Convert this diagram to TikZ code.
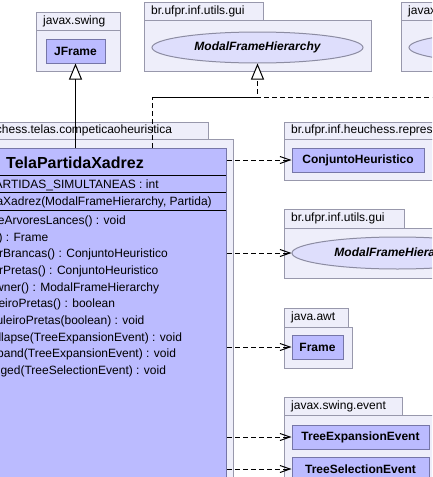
\documentclass[tikz,border=0pt]{standalone}
\usepackage{fontspec}
\setmainfont{Liberation Sans}
\usepackage{tikz}
\usetikzlibrary{arrows.meta,shapes.geometric}
\definecolor{pkgfill}{RGB}{238,238,250}
\definecolor{pkgline}{RGB}{152,152,172}
\definecolor{clsfill}{RGB}{187,187,255}
\definecolor{clsline}{RGB}{118,118,168}
\definecolor{ifacefill}{RGB}{222,222,252}
\definecolor{ifaceline}{RGB}{140,140,162}

\begin{document}
\begin{tikzpicture}[x=1pt,y=-1pt,>=Latex,
  pkg/.style={draw=pkgline,fill=pkgfill,line width=1pt},
  pkglabel/.style={anchor=west,inner sep=0pt,font=\fontsize{12}{14}\selectfont},
  cls/.style={draw=clsline,fill=clsfill,line width=1pt,inner sep=0pt,font=\bfseries\fontsize{12}{14}\selectfont},
  iface/.style={ellipse,draw=ifaceline,fill=ifacefill,line width=1pt,inner sep=0pt,font=\bfseries\itshape\fontsize{12}{14}\selectfont},
  member/.style={anchor=base west,inner sep=0pt,font=\fontsize{12}{14}\selectfont},
  sep/.style={line width=1pt},
  dep/.style={line width=1pt,dash pattern=on 5pt off 3pt,-{Straight Barb[length=10pt,width=7pt]}},
  gen/.style={line width=1pt,-{Triangle[length=16pt,width=13pt,fill=white]}},
  real/.style={line width=1pt,dash pattern=on 5pt off 3pt,-{Triangle[length=16pt,width=13pt,fill=white]}}]
  \useasboundingbox (0,0) rectangle (432,477);
  \clip (0,0) rectangle (432,477);
  \fill[white] (0,0) rectangle (432,477);
  \foreach \xa/\ya/\yb/\xt/\xb/\yc/\lab [count=\i] in {
      36/12/30/120/120/71/javax.swing,
      144/2/20/263/371/71/br.ufpr.inf.utils.gui,
      401/2/20/530/620/71/javax.swing.event,
      -84/122/139/208/233/620/br.ufpr.inf.heuchess.telas.competicaoheuristica,
      284/122/139/560/560/180/br.ufpr.inf.heuchess.representacao,
      284/209/228/404/511/278/br.ufpr.inf.utils.gui,
      284/308/327/348/352/368/java.awt,
      284/397/415/402/437/520/javax.swing.event} {
    \draw[pkg] (\xa,\ya) rectangle (\xt,\yb);
    \draw[pkg] (\xa,\yb) rectangle (\xb,\yc);
    \node[pkglabel] (p\i) at (\xa+7,{(\ya+\yb)/2}) {\lab};
  }

  \node[cls,minimum width=59pt,minimum height=24pt] (jframe) at (75.5,51) {JFrame};
  \node[iface,minimum width=211pt,minimum height=31pt] (modal) at (257.5,47.5) {ModalFrameHierarchy};
  \node[iface,minimum width=211pt,minimum height=31pt] (listener) at (514.5,47.5) {};
  \node[cls,minimum width=132pt,minimum height=24pt] (conj) at (358,160) {ConjuntoHeuristico};
  \node[iface,minimum width=211pt,minimum height=32pt] (modalb) at (397.5,253) {ModalFrameHierarchy};
  \node[cls,minimum width=51pt,minimum height=24pt] (frame) at (317.5,347) {Frame};
  \node[cls,minimum width=137pt,minimum height=24pt] (texp) at (360.5,437) {TreeExpansionEvent};
  \node[cls,minimum width=137pt,minimum height=24pt] (tsel) at (360.5,469) {TreeSelectionEvent};

  \node[cls,anchor=north west,minimum width=302pt,minimum height=460pt] (tela) at (-76,148) {};
  \node[anchor=base,inner sep=0pt,font=\bfseries\fontsize{16}{19}\selectfont] (telaname) at (75,168) {TelaPartidaXadrez};
  \draw[sep] (-76,175) -- (226,175);
  \draw[sep] (-76,192) -- (226,192);
  \draw[sep] (-76,210) -- (226,210);
  \node[member] (attr) at (-57,188) {\underline{TOTAL\_PARTIDAS\_SIMULTANEAS : int}};
  \node[member] (ctor) at (-57,205.5) {TelaPartidaXadrez(ModalFrameHierarchy, Partida)};
  \foreach \m [count=\i] in {reposicioneArvoresLances() : void, getFrame() : Frame,
      getJogadorBrancas() : ConjuntoHeuristico, getJogadorPretas() : ConjuntoHeuristico,
      getMainOwner() : ModalFrameHierarchy, isVerTabuleiroPretas() : boolean,
      setVerTabuleiroPretas(boolean) : void, treeWillCollapse(TreeExpansionEvent) : void,
      treeWillExpand(TreeExpansionEvent) : void, valueChanged(TreeSelectionEvent) : void}
    \node[member] (m\i) at (-57,{224.5+(\i-1)*16.67}) {\m};

  \draw[gen] (tela.north) -- (jframe.south);
  \coordinate (bend) at (152,97);
  \draw[real] (bend |- tela.north) -- (bend) -| (modal.south);
  \draw[real] (bend) -| (listener.south);
  \draw[dep] (tela.east |- conj) -- (conj.west);
  \draw[dep] (tela.east |- modalb) -- (modalb.west);
  \draw[dep] (tela.east |- frame) -- (frame.west);
  \draw[dep] (tela.east |- texp) -- (texp.west);
  \draw[dep] (tela.east |- tsel) -- (tsel.west);
\end{tikzpicture}
\end{document}
